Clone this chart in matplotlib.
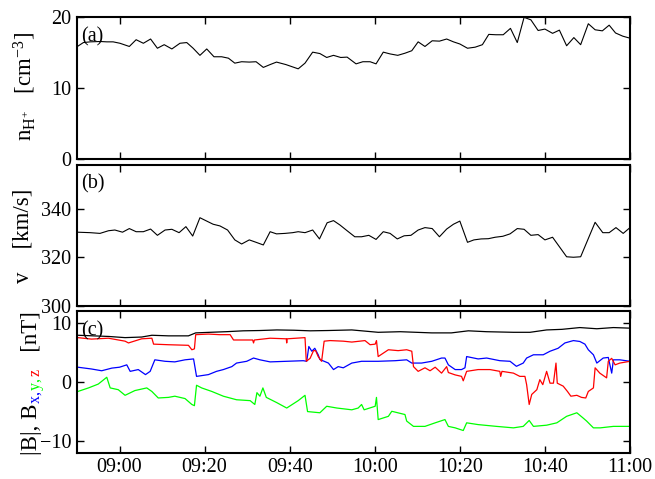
import matplotlib
matplotlib.use("Agg")
import matplotlib.pyplot as plt
from matplotlib.transforms import IdentityTransform

plt.rcParams['font.family'] = ['Liberation Serif', 'DejaVu Serif']
plt.rcParams['mathtext.fontset'] = 'custom'
plt.rcParams['mathtext.rm'] = 'Liberation Serif'
plt.rcParams['mathtext.it'] = 'Liberation Serif:italic'
plt.rcParams['mathtext.bf'] = 'Liberation Serif:bold'
plt.rcParams['mathtext.default'] = 'regular'
plt.rcParams['axes.unicode_minus'] = True

# ---- data (time in minutes after 08:50) ----
t_n = [0.1, 1.5, 3.1, 5.4, 7.0, 8.5, 10.1, 12.3, 13.9, 15.6, 17.3, 18.9, 20.5, 22.3, 24.2,
       25.8, 27.3, 28.9, 30.5, 32.2, 34.0, 35.6, 37.1, 38.7, 40.5, 42.1, 43.8, 45.4, 46.9,
       49.1, 52.0, 53.6, 55.4, 57.1, 58.7, 60.3, 62.0, 63.5, 65.6, 67.2, 68.9, 70.3, 72.0,
       73.6, 75.4, 77.1, 78.7, 80.2, 81.8, 83.5, 85.2, 86.9, 88.5, 90.0, 91.8, 93.6, 95.3,
       96.8, 98.5, 100.2, 101.9, 103.5, 105.1, 106.7, 108.4, 110.0, 111.8, 113.4, 115.1,
       116.8, 118.4, 120.2, 121.8, 123.5, 125.1, 126.6, 128.3, 129.8]
n_h = [15.85, 16.4, 16.5, 16.55, 16.5, 16.5, 16.3, 15.85, 16.8, 16.3, 16.9, 15.6, 16.1, 15.5,
       16.3, 16.4, 15.6, 14.6, 15.5, 14.4, 14.4, 14.2, 13.5, 13.7, 13.65, 13.7, 12.9, 13.3,
       13.65, 13.3, 12.7, 13.5, 15.05, 14.85, 14.3, 14.6, 14.3, 14.35, 13.4, 13.7, 13.7, 13.4,
       15.05, 14.8, 14.6, 14.9, 15.25, 16.5, 15.85, 16.65, 16.6, 16.9, 16.5, 16.2, 15.6, 15.75,
       16.1, 17.55, 17.5, 17.5, 18.4, 16.4, 19.95, 19.6, 18.1, 18.3, 17.7, 18.15, 15.95, 17.1,
       16.1, 19.05, 18.2, 18.05, 18.85, 17.75, 17.3, 17.05]

t_v = [0.1, 3.1, 5.4, 7.4, 8.9, 10.7, 12.3, 13.9, 15.6, 17.3, 18.9, 20.7, 22.3, 24.0, 25.6,
       27.2, 28.9, 30.5, 32.0, 33.6, 35.4, 37.1, 38.7, 40.5, 42.1, 43.8, 45.4, 46.9, 48.9,
       50.7, 52.0, 53.6, 55.4, 57.0, 58.8, 60.3, 61.8, 63.5, 65.3, 66.9, 68.6, 70.3, 72.0,
       73.6, 75.3, 76.9, 78.5, 80.2, 81.8, 83.5, 85.2, 86.9, 88.5, 90.0, 91.8, 93.3, 95.0,
       96.7, 98.3, 100.1, 101.8, 103.5, 105.1, 106.7, 108.4, 110.0, 111.8, 115.1, 116.7,
       118.4, 121.8, 123.6, 125.1, 126.7, 128.4, 129.8]
v_sw = [330.5, 330.3, 330.0, 331.1, 331.4, 330.5, 332.0, 330.7, 330.7, 331.8, 329.2, 331.4,
        331.7, 330.3, 332.8, 328.9, 336.5, 335.1, 333.8, 333.1, 331.4, 327.3, 325.6, 327.3,
        326.3, 325.2, 330.7, 329.8, 330.0, 330.3, 330.7, 330.3, 331.4, 327.7, 334.4, 335.3,
        333.5, 331.1, 328.6, 328.6, 329.2, 327.5, 330.7, 330.0, 327.7, 329.0, 329.2, 331.4,
        332.4, 332.0, 328.6, 331.8, 333.8, 335.1, 326.3, 327.3, 327.7, 327.8, 328.4, 328.8,
        329.8, 332.0, 331.7, 329.2, 329.5, 327.3, 328.4, 320.3, 320.1, 320.3, 334.6, 330.3,
        330.3, 332.4, 330.0, 332.1]

t_bt = [0.2, 7.4, 11.3, 15.2, 17.6, 21.5, 26.2, 27.9, 31.3, 35.0, 39.1, 43.0, 47.0, 51.0,
        54.8, 59.0, 64.6, 70.8, 76.0, 83.4, 88.0, 92.0, 96.3, 102.6, 106.5, 110.4, 114.0,
        118.2, 122.2, 126.1, 130.0]
b_tot = [7.9, 7.7, 7.5, 7.6, 7.9, 7.8, 7.8, 8.3, 8.4, 8.5, 8.65, 8.7, 8.8, 8.75, 8.65, 8.7,
         8.8, 8.4, 8.5, 8.3, 8.3, 8.65, 8.5, 8.4, 8.4, 8.8, 8.9, 9.2, 9.0, 9.2, 9.1]

t_bx = [0.2, 3.4, 5.8, 8.2, 10.0, 11.7, 12.5, 14.4, 16.1, 17.2, 18.3, 20.7, 23.0, 25.4, 27.4,
        28.1, 30.9, 32.8, 34.4, 36.4, 37.5, 39.9, 41.5, 43.0, 45.4, 49.3, 53.2, 54.0, 54.5,
        55.2, 55.9, 56.7, 57.1, 59.1, 60.3, 61.4, 62.6, 64.6, 66.9, 70.8, 74.8, 77.5, 78.7,
        81.0, 83.4, 85.7, 86.5, 87.3, 88.9, 90.4, 91.2, 91.6, 94.3, 96.3, 99.4, 101.8, 103.3,
        104.9, 105.7, 107.3, 109.6, 111.2, 113.1, 114.7, 116.7, 118.2, 119.4, 120.2, 121.4,
        122.2, 123.7, 124.9, 125.7, 126.1, 127.6, 130.0]
b_x = [2.5, 2.2, 1.9, 2.35, 2.5, 2.9, 1.8, 2.1, 1.25, 1.8, 3.75, 3.5, 3.4, 3.75, 3.9, 0.95,
       1.25, 1.8, 2.1, 2.6, 3.2, 3.5, 4.05, 3.75, 3.4, 3.5, 3.6, 3.5, 6.0, 5.2, 5.7, 4.6, 3.8,
       3.2, 2.1, 2.6, 2.4, 3.2, 3.5, 3.5, 3.6, 3.75, 3.2, 3.2, 3.5, 4.05, 4.05, 2.9, 2.1, 2.1,
       2.4, 4.3, 3.9, 4.05, 3.6, 3.5, 2.65, 3.2, 4.05, 4.6, 4.6, 5.2, 5.7, 6.6, 7.0, 6.85, 6.4,
       5.45, 4.6, 3.2, 4.05, 4.15, 1.5, 3.75, 3.75, 3.5]

t_by = [0.2, 2.7, 5.0, 7.0, 7.8, 9.7, 11.3, 13.6, 16.4, 17.6, 19.1, 21.5, 23.0, 25.4, 27.0,
        27.6, 28.1, 29.3, 31.7, 34.4, 37.5, 40.7, 41.8, 42.3, 43.0, 43.7, 44.5, 47.0, 49.3,
        52.0, 53.6, 54.2, 57.1, 58.7, 61.1, 64.6, 66.1, 66.9, 67.5, 70.1, 70.4, 70.8, 73.2,
        74.0, 77.1, 77.5, 79.1, 81.8, 84.2, 86.5, 87.3, 88.9, 90.8, 91.6, 94.3, 98.6, 102.6,
        104.9, 106.3, 107.3, 110.4, 112.8, 115.1, 117.5, 119.0, 119.8, 121.4, 123.0, 126.1,
        130.0]
b_y = [-1.6, -1.0, -0.35, 0.8, -1.0, -1.3, -2.25, -1.45, -1.0, -1.6, -2.7, -2.6, -2.4, -2.8,
       -3.8, -4.0, -0.55, -1.0, -1.6, -2.4, -3.0, -3.15, -3.8, -1.8, -2.4, -1.0, -2.6, -3.5,
       -4.4, -3.15, -2.25, -5.0, -5.2, -4.1, -4.4, -4.7, -4.4, -3.8, -4.7, -4.1, -2.6, -6.35,
       -5.8, -4.95, -5.5, -6.6, -7.5, -7.5, -6.9, -6.35, -7.5, -7.75, -8.2, -6.9, -7.2, -7.5,
       -7.75, -7.5, -6.5, -7.5, -7.3, -6.9, -5.8, -5.2, -6.1, -6.6, -7.75, -7.75, -7.5, -7.5]

t_bz = [0.2, 3.4, 7.4, 11.3, 12.1, 15.2, 17.6, 18.0, 21.5, 26.2, 27.0, 27.6, 27.9, 30.9, 33.5,
        36.0, 36.8, 41.3, 41.5, 41.7, 45.4, 49.2, 49.3, 49.4, 53.6, 53.9, 54.8, 55.6, 56.1,
        56.7, 57.5, 58.1, 59.5, 62.6, 64.6, 67.7, 68.9, 70.1, 70.4, 70.8, 73.2, 75.5, 77.5,
        78.7, 79.1, 80.2, 81.8, 83.0, 84.2, 85.7, 86.9, 87.3, 88.9, 90.4, 90.8, 91.6, 94.3,
        97.1, 99.4, 99.6, 99.9, 102.6, 104.1, 105.3, 105.7, 106.3, 106.9, 108.1, 108.8, 109.5,
        110.4, 111.2, 112.0, 112.6, 112.9, 114.3, 115.3, 116.1, 117.5, 118.6, 119.6, 120.2,
        121.4, 121.8, 122.9, 124.5, 124.9, 125.7, 126.5, 127.6, 130.0]
b_z = [7.5, 7.25, 7.4, 6.9, 6.6, 7.3, 7.4, 6.4, 6.3, 6.2, 5.45, 5.6, 8.0, 8.1, 8.0, 8.0, 7.1,
       7.1, 6.6, 7.1, 7.4, 7.3, 6.6, 7.3, 7.5, 3.5, 4.0, 5.3, 5.3, 4.3, 3.5, 6.9, 7.0, 6.9,
       6.75, 7.0, 6.3, 6.4, 7.0, 4.3, 5.45, 5.3, 5.45, 5.2, 2.6, 1.8, 2.4, 1.9, 2.5, 1.5, 2.6,
       1.6, 1.2, 0.95, 0.2, 1.8, 2.1, 2.1, 1.8, 0.95, 1.8, 1.5, 0.95, 0.95, -0.45, -3.8, -2.1,
       -1.3, 0.4, -0.45, 1.8, -0.2, -0.2, 3.2, -0.2, -0.7, -1.6, -2.4, -2.25, -2.6, -2.7,
       -1.6, -1.0, 2.4, 1.5, 0.7, 3.5, 4.0, 2.9, 3.2, 3.5]

tick_pos = [10, 30, 50, 70, 90, 110, 130]
tick_labels = ["09:00", "09:20", "09:40", "10:00", "10:20", "10:40", "11:00"]

W, H = 655, 479
fig = plt.figure(figsize=(W / 100, H / 100), dpi=100)

def px_axes(left, top, right, bottom):
    return fig.add_axes([left / W, 1 - bottom / H, (right - left) / W, (bottom - top) / H])

ax1 = px_axes(77, 17, 630, 159)
ax2 = px_axes(77, 164.7, 630, 305.7)
ax3 = px_axes(77, 311, 630, 453)

FS = 14.5
LFS = 16.5
for ax in (ax1, ax2, ax3):
    ax.set_xlim(0, 130)
    ax.set_xticks(tick_pos)
    ax.tick_params(direction='in', length=5, width=1, top=True, right=True,
                   labelsize=FS, pad=4)
    ax.tick_params(axis='x', pad=3.5)
    for s in ax.spines.values():
        s.set_linewidth(1.5)
    ax.set_xticklabels([])

ax1.plot(t_n, n_h, color='black', lw=0.8)
ax1.set_ylim(0, 20)
ax1.set_yticks([0, 10, 20])

ax2.plot(t_v, v_sw, color='black', lw=0.8)
ax2.set_ylim(300, 358.5)
ax2.set_yticks([300, 320, 340])

ax3.plot(t_bt, b_tot, color='black', lw=0.9)
ax3.plot(t_by, b_y, color='#00ff00', lw=0.9)
ax3.plot(t_bx, b_x, color='#0000ff', lw=0.9)
ax3.plot(t_bz, b_z, color='#ff0000', lw=0.9)
ax3.set_ylim(-12, 12)
ax3.set_yticks([-10, 0, 10])
ax3.set_xticklabels(tick_labels)

for ax, lab in ((ax1, '(a)'), (ax2, '(b)'), (ax3, '(c)')):
    ax.text(0.008, 0.93, lab, transform=ax.transAxes, fontsize=FS, ha='left', va='top')

# y labels
fig.text(25 / W, 1 - 87 / H, r'$\mathrm{n}_{\mathrm{H}^{+}}$   [cm$^{-3}$]', rotation=90,
         ha='center', va='center', fontsize=LFS)
fig.text(23 / W, 1 - 236 / H, 'v    [km/s]', rotation=90, ha='center', va='center',
         fontsize=LFS)

pieces = [('|B|, B', 'black'), (r'${}_{\mathrm{x,}}$', '#0000ff'),
          (r'${}_{\mathrm{y,}}$', '#00ff00'), (r'${}_{\mathrm{z}}$', '#ff0000'),
          ('   [nT]', 'black')]
renderer = fig.canvas.get_renderer()
texts = []
for s, c in pieces:
    tx = fig.text(0, 0, s, color=c, rotation=90, rotation_mode='anchor', ha='left',
                  va='baseline', fontsize=LFS, transform=IdentityTransform())
    texts.append(tx)
lengths = [tx.get_window_extent(renderer).height for tx in texts]
total = sum(lengths)
ycur = (H - 383) - total / 2
xb = 37
for tx, L in zip(texts, lengths):
    tx.set_position((xb, ycur))
    ycur += L

fig.savefig('out.png', dpi=100)
